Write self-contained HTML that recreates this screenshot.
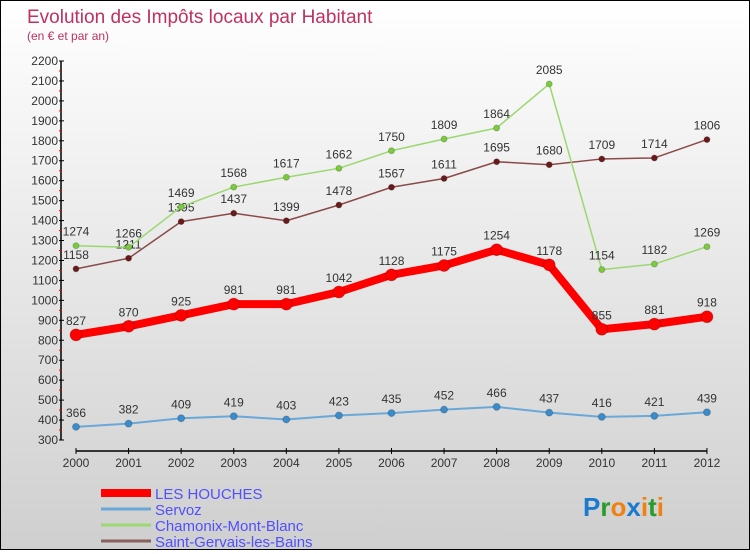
<!DOCTYPE html>
<html><head><meta charset="utf-8"><style>
html,body{margin:0;padding:0}
body{width:750px;height:550px;overflow:hidden;font-family:"Liberation Sans",sans-serif}
#wrap{position:absolute;left:0;top:0;width:748px;height:548px;border:1px solid #000;background:linear-gradient(#fff,#cfcfcf)}
</style></head><body>
<div id="wrap">
<svg id="chart" width="748" height="548" style="font-family:'Liberation Sans',sans-serif"></svg>
</div>
<script>
const years=["2000","2001","2002","2003","2004","2005","2006","2007","2008","2009","2010","2011","2012"];
const houches=[827,870,925,981,981,1042,1128,1175,1254,1178,855,881,918];
const servoz=[366,382,409,419,403,423,435,452,466,437,416,421,439];
const chamonix=[1274,1266,1469,1568,1617,1662,1750,1809,1864,2085,1154,1182,1269];
const stgervais=[1158,1211,1395,1437,1399,1478,1567,1611,1695,1680,1709,1714,1806];
const yTicks=[300,400,500,600,700,800,900,1000,1100,1200,1300,1400,1500,1600,1700,1800,1900,2000,2100,2200];
const NS="http://www.w3.org/2000/svg";
const svg=document.getElementById('chart');
const X=i=>75+i*52.58;
const Y=v=>439-(v-300)*(379/1900);
function mk(t,a,p){const e=document.createElementNS(NS,t);for(const k in a)e.setAttribute(k,a[k]);(p||svg).appendChild(e);return e;}
let t=mk('text',{x:26,y:22,fill:'#c03060','font-size':19});t.textContent='Evolution des Impôts locaux par Habitant';


t=mk('text',{x:26,y:39,fill:'#c03060','font-size':12});t.textContent='(en € et par an)';


// axes
let a=mk('line',{x1:60,y1:Y(2200),x2:60,y2:Y(300),stroke:'#000','stroke-width':1.5});


yTicks.forEach((v,i)=>{
 mk('line',{x1:58,x2:63,y1:Y(v),y2:Y(v),stroke:'#000'});
 if(i<yTicks.length-1)mk('line',{x1:58,x2:61,y1:Y(v+50),y2:Y(v+50),stroke:'#e00'});
 const l=mk('text',{x:57,y:Y(v)+4,'text-anchor':'end','font-size':12,fill:'#333'});l.textContent=v;
 
 
});
a=mk('line',{x1:X(0),y1:450,x2:X(12),y2:450,stroke:'#000','stroke-width':1.5});


years.forEach((y,i)=>{
 mk('line',{x1:X(i),x2:X(i),y1:447,y2:453,stroke:'#000'});
 const l=mk('text',{x:X(i),y:466,'text-anchor':'middle','font-size':12,fill:'#333'});l.textContent=y;
 
 
});
function series(vals,color,dot,w,r,name){
 const g=mk('g',{});
 
 
 mk('polyline',{points:vals.map((v,i)=>X(i)+','+Y(v)).join(' '),fill:'none',stroke:color,'stroke-width':w,'stroke-linejoin':'round'},g);
 vals.forEach((v,i)=>{
  const c=mk('circle',{cx:X(i),cy:Y(v),r:r,fill:dot,stroke:'#0003'},g);
  
  
  const l=mk('text',{x:X(i),y:Y(v)-10,'text-anchor':'middle','font-size':12,fill:'#333'},g);l.textContent=v;
  
  
 });
}
series(servoz,'#6aa8d8','#3a8ccc',2,3.5,'servoz-series');
series(stgervais,'#8a4a4a','#6a1a1a',1.5,3,'saint-gervais-series');
series(chamonix,'#9ad870','#7acc3a',1.5,3,'chamonix-series');
series(houches,'#f00','#f00',8,6,'les-houches-series');
const leg=[['LES HOUCHES','#f00',8],['Servoz','#6aa8d8',3],['Chamonix-Mont-Blanc','#9ad870',3],['Saint-Gervais-les-Bains','#8a6060',3]];
leg.forEach((l,i)=>{
 const y=492+i*16;
 const g=mk('g',{});
 
 
 mk('line',{x1:100,x2:150,y1:y,y2:y,stroke:l[1],'stroke-width':l[2]},g);
 const tx=mk('text',{x:154,y:y+6,'font-size':15,fill:'#5050ff'},g);tx.textContent=l[0];
});
const logo=mk('text',{x:582,y:515,'font-size':26,'font-weight':'bold'});


[['P','#1a7ad0'],['r','#2a9a2a'],['o','#f08010'],['x','#1a7ad0'],['i','#f08010'],['t','#2a9a2a'],['i','#f08010']].forEach(c=>{const s=mk('tspan',{fill:c[1]},logo);s.textContent=c[0];});
</script>
</body></html>
